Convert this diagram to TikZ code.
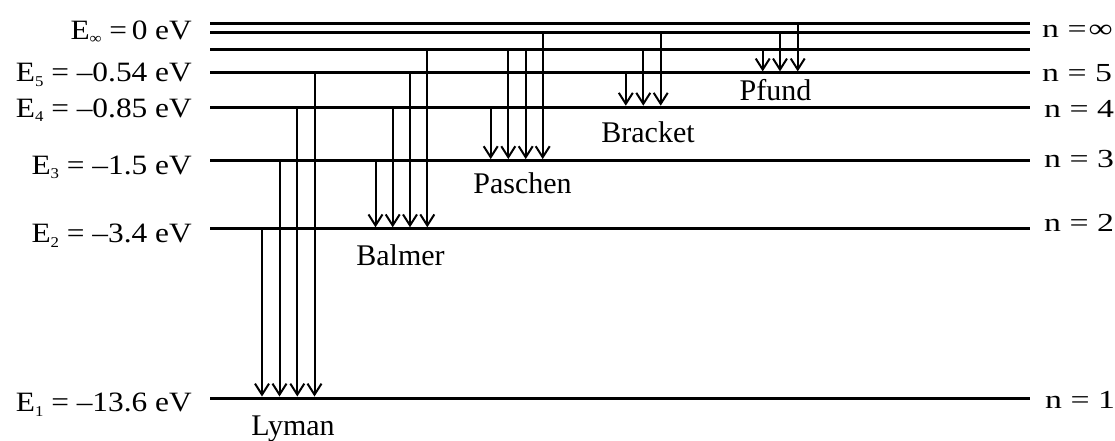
\documentclass[tikz,border=0pt]{standalone}
\usepackage{fontspec}
\setmainfont{Liberation Serif}
\newfontfamily\lfont[FakeStretch=1.12]{Liberation Serif}
\newfontfamily\rfont[FakeStretch=1.3]{Liberation Serif}
\usetikzlibrary{arrows.meta}
\newcommand\esub[1]{\raisebox{-0.35ex}{\fontsize{15}{15}\selectfont #1}}
\begin{document}
\begin{tikzpicture}[x=1pt,y=-1pt,
  level/.style={line width=3pt},
  thinlevel/.style={line width=2.7pt},
  arr/.style={line width=2pt,-{Straight Barb[length=11pt,width=14pt]},shorten >=1.5pt},
  elab/.style={anchor=base east,font=\lfont\fontsize{28}{30}\selectfont,inner sep=0pt},
  nlab/.style={anchor=base west,font=\rfont\fontsize{26}{28}\selectfont,inner sep=0pt},
  slab/.style={anchor=base,font=\fontsize{30}{32}\selectfont,inner sep=0pt}]
\useasboundingbox (0,0) rectangle (1115,440);
% level coordinates (west end / east end)
\coordinate (Li) at (210,23.3);   \coordinate (Lie) at (1030,23.3);
\coordinate (L7) at (210,32.3);   \coordinate (L7e) at (1030,32.3);
\coordinate (L6) at (210,49.7);   \coordinate (L6e) at (1030,49.7);
\coordinate (L5) at (210,72.9);   \coordinate (L5e) at (1030,72.9);
\coordinate (L4) at (210,107.2);  \coordinate (L4e) at (1030,107.2);
\coordinate (L3) at (210,160.6);  \coordinate (L3e) at (1030,160.6);
\coordinate (L2) at (210,228.8);  \coordinate (L2e) at (1030,228.8);
\coordinate (L1) at (210,398);    \coordinate (L1e) at (1030,398);
\draw[thinlevel] (Li) -- (Lie);
\draw[thinlevel] (L7) -- (L7e);
\draw[level] (L6) -- (L6e);
\draw[level] (L5) -- (L5e);
\draw[level] (L4) -- (L4e);
\draw[level] (L3) -- (L3e);
\draw[level] (L2) -- (L2e);
\draw[level] (L1) -- (L1e);
% left labels
\node[elab] (e0) at (192,39) {E\esub{∞}\;=\,0\;eV};
\node[elab] (e5) at (192,81.7) {E\esub{5} = –0.54 eV};
\node[elab] (e4) at (192,117) {E\esub{4} = –0.85 eV};
\node[elab] (e3) at (192,174) {E\esub{3} = –1.5 eV};
\node[elab] (e2) at (192,242.7) {E\esub{2} = –3.4 eV};
\node[elab] (e1) at (192,411.5) {E\esub{1} = –13.6 eV};
% right labels
\node[nlab] (ni) at (1042,37) {n =\kern2pt∞};
\node[nlab] (n5) at (1042,81.7) {n = 5};
\node[nlab] (n4) at (1044,117) {n = 4};
\node[nlab] (n3) at (1044,167.7) {n = 3};
\node[nlab] (n2) at (1044,231.7) {n = 2};
\node[nlab] (n1) at (1045,408) {n = 1};
% series labels
\node[slab] (ly) at (293,435) {Lyman};
\node[slab] (ba) at (400.5,265.7) {Balmer};
\node[slab] (pa) at (522.5,193.3) {Paschen};
\node[slab] (br) at (648,142) {Bracket};
\node[slab] (pf) at (775.5,100) {Pfund};
% arrow x positions
\coordinate (a1) at (262,0);   \coordinate (a2) at (279.5,0);
\coordinate (a3) at (297.3,0); \coordinate (a4) at (314.5,0);
\coordinate (b1) at (375.5,0); \coordinate (b2) at (392.7,0);
\coordinate (b3) at (410,0);   \coordinate (b4) at (427.3,0);
\coordinate (p1) at (490.7,0); \coordinate (p2) at (508.3,0);
\coordinate (p3) at (525.7,0); \coordinate (p4) at (542.7,0);
\coordinate (r1) at (625.8,0); \coordinate (r2) at (643.3,0);
\coordinate (r3) at (660.7,0);
\coordinate (f1) at (762.7,0); \coordinate (f2) at (780,0);
\coordinate (f3) at (797.7,0);
% Lyman
\draw[arr] (a1 |- L2) -- (a1 |- L1);
\draw[arr] (a2 |- L3) -- (a2 |- L1);
\draw[arr] (a3 |- L4) -- (a3 |- L1);
\draw[arr] (a4 |- L5) -- (a4 |- L1);
% Balmer
\draw[arr] (b1 |- L3) -- (b1 |- L2);
\draw[arr] (b2 |- L4) -- (b2 |- L2);
\draw[arr] (b3 |- L5) -- (b3 |- L2);
\draw[arr] (b4 |- L6) -- (b4 |- L2);
% Paschen
\draw[arr] (p1 |- L4) -- (p1 |- L3);
\draw[arr] (p2 |- L6) -- (p2 |- L3);
\draw[arr] (p3 |- L6) -- (p3 |- L3);
\draw[arr] (p4 |- L7) -- (p4 |- L3);
% Bracket
\draw[arr] (r1 |- L5) -- (r1 |- L4);
\draw[arr] (r2 |- L6) -- (r2 |- L4);
\draw[arr] (r3 |- L7) -- (r3 |- L4);
% Pfund
\draw[arr] (f1 |- L6) -- (f1 |- L5);
\draw[arr] (f2 |- L7) -- (f2 |- L5);
\draw[arr] (f3 |- Li) -- (f3 |- L5);
\end{tikzpicture}
\end{document}
